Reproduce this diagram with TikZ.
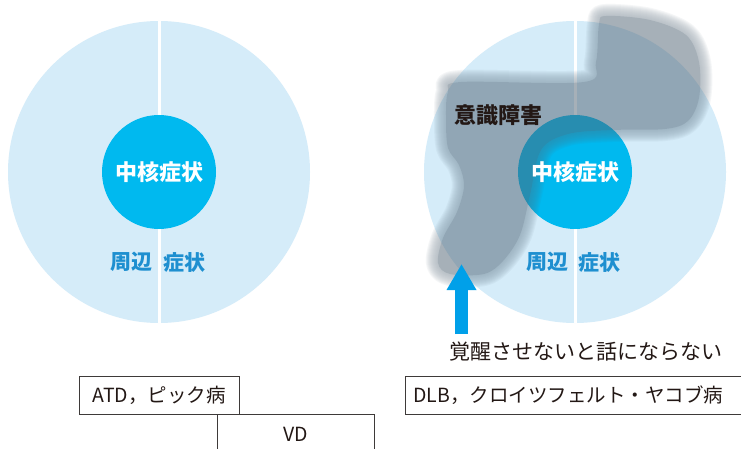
\documentclass[tikz,border=0pt]{standalone}
\usepackage{fontspec}
\setmainfont{Noto Sans CJK JP}
\usetikzlibrary{arrows.meta}
\definecolor{outerc}{HTML}{D5ECF9}
\definecolor{innerc}{HTML}{00B9EF}
\definecolor{perc}{HTML}{1E8FD0}
\definecolor{inkc}{HTML}{231815}
\definecolor{blobc}{HTML}{4E6272}
\definecolor{arrowc}{HTML}{00A0E9}
\definecolor{framec}{HTML}{3E3A39}
\tikzset{
 outer/.style={circle, fill=outerc, minimum size=302pt, inner sep=0pt},
 inner/.style={circle, fill=innerc, minimum size=114pt, inner sep=0pt},
 core/.style={text=white, font=\fontsize{22}{24}\selectfont\bfseries, inner sep=0pt},
 peri/.style={text=perc, font=\fontsize{21}{23}\selectfont\bfseries, inner sep=0pt},
 splitline/.style={draw=white, line width=3pt},
 tag/.style={draw=framec, line width=1pt, font=\fontsize{19.5}{22}\selectfont, text=inkc, minimum height=38pt, inner xsep=8pt, inner ysep=0pt},
 plain/.style={text=inkc, font=\fontsize{21}{23}\selectfont, inner sep=0pt},
 blobline/.style={draw=blobc, line join=round, draw opacity=0.11},
}
\begin{document}
\begin{tikzpicture}[x=1pt,y=-1pt]
\useasboundingbox (0,0) rectangle (741,449);
\clip (0,0) rectangle (741,449);
\fill[white] (0,0) rectangle (741,449);

% left diagram
\node[outer] (oL) at (159,172) {};
\draw[splitline] (oL.north) -- (oL.south);
\node[inner] (iL) at (159,172) {};
\node[core] (cL) at (159,172) {中核症状};
\node[peri, anchor=east] (pL1) at (153,262) {周辺};
\node[peri, anchor=west] (pL2) at (163,262) {症状};

% right diagram
\node[outer] (oR) at (575,172) {};
\draw[splitline] (oR.north) -- (oR.south);
\node[inner] (iR) at (575,172) {};

% blurred grey band (consciousness disturbance)
\begin{scope}[transparency group, opacity=0.5]
 \def\blobpath{plot[smooth cycle, tension=0.55] coordinates {(599,24) (606,16) (650,20) (686,35) (699,62) (699,98) (688,121) (665,129) (612,130) (568,134) (541,150) (530,195) (520,235) (503,261) (484,274) (450,274) (438,263) (443,238) (457,212) (464,186) (459,165) (448,148) (446,118) (448,92) (461,82) (584,82) (596,62)}}
 \foreach \w in {24,22,...,2} {\draw[blobline, line width=\w pt] \blobpath;}
 \fill[blobc] \blobpath;
\end{scope}

\node[core] (cR) at (575,172) {中核症状};
\node[peri, anchor=east] (pR1) at (569,262) {周辺};
\node[peri, anchor=west] (pR2) at (578,262) {症状};
\node[text=inkc, font=\fontsize{22}{24}\selectfont\bfseries, inner sep=0pt] (ishiki) at (498,115) {意識障害};

% arrow and caption
\coordinate (arrowfoot) at (461.5,334);
\coordinate (arrowtip) at (461.5,264);
\draw[arrowc, line width=13pt, -{Triangle[length=26pt,width=28pt]}] (arrowfoot) -- (arrowtip);
\node[plain] (kakusei) at (585.5,352) {覚醒させないと話にならない};

% disease boxes
\node[tag, minimum width=160pt] (atd) at (159,395) {ATD，ピック病};
\node[tag, minimum width=157pt, minimum height=40pt] (vd) at (295.5,434) {VD};
\node[tag, anchor=west, text width=344pt, align=left] (dlb) at (405,395.5) {DLB，クロイツフェルト・ヤコブ病};
\end{tikzpicture}
\end{document}
